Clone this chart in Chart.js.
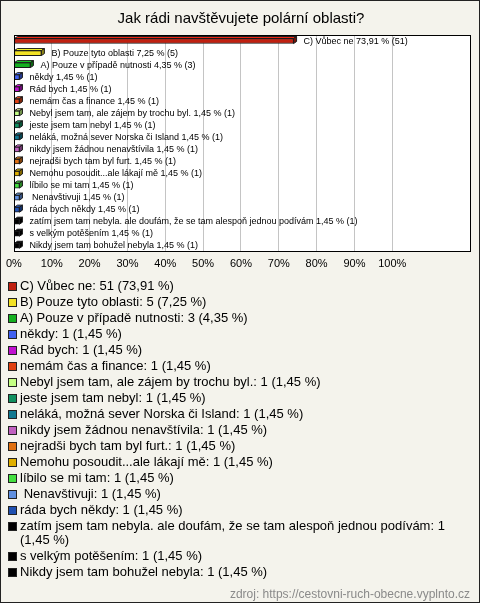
<!DOCTYPE html>
<html>
<head>
<meta charset="utf-8">
<title>Jak rádi navštěvujete polární oblasti?</title>
<script src="https://cdn.jsdelivr.net/npm/chart.js"></script>
<style>
  body { margin: 0; background: #f4f3ec; font-family: "Liberation Sans", Arial, sans-serif; }
  #frame { position: relative; width: 480px; height: 603px; outline: 1px solid #222; outline-offset: -1px; overflow: hidden; }
  #chartBox { position: absolute; left: 0; top: 0; }
  #legend { position: absolute; left: 8px; top: 279px; width: 462px; font-size: 13px; color: #000; }
  .item { position: relative; padding-left: 12px; line-height: 14px; margin-bottom: 2px; white-space: pre-wrap; }
  .item .sw { position: absolute; left: 0; top: 3px; width: 7px; height: 7px; border: 1px solid #222; }
  #source { position: absolute; right: 10px; top: 587px; font-size: 12px; color: #8a8a8a; }
</style>
</head>
<body>
<div id="frame">
  <canvas id="chartBox" width="480" height="287"></canvas>
  <div id="legend"></div>
  <div id="source">zdroj: https://cestovni-ruch-obecne.vyplnto.cz</div>
</div>
<script>
  const categories = [
    'C) Vůbec ne',
    'B) Pouze tyto oblasti',
    'A) Pouze v případě nutnosti',
    'někdy',
    'Rád bych',
    'nemám čas a finance',
    'Nebyl jsem tam, ale zájem by trochu byl.',
    'jeste jsem tam nebyl',
    'neláká, možná sever Norska či Island',
    'nikdy jsem žádnou nenavštívila',
    'nejradši bych tam byl furt.',
    'Nemohu posoudit...ale lákají mě',
    'líbilo se mi tam',
    ' Nenavštivuji',
    'ráda bych někdy',
    'zatím jsem tam nebyla. ale doufám, že se tam alespoň jednou podívám',
    's velkým potěšením',
    'Nikdy jsem tam bohužel nebyla'
  ];
  const counts = [51, 5, 3, 1, 1, 1, 1, 1, 1, 1, 1, 1, 1, 1, 1, 1, 1, 1];
  const percents = [73.91, 7.25, 4.35, 1.45, 1.45, 1.45, 1.45, 1.45, 1.45, 1.45, 1.45, 1.45, 1.45, 1.45, 1.45, 1.45, 1.45, 1.45];
  const percentLabels = ['73,91', '7,25', '4,35', '1,45', '1,45', '1,45', '1,45', '1,45', '1,45', '1,45', '1,45', '1,45', '1,45', '1,45', '1,45', '1,45', '1,45', '1,45'];
  const colors = [
    '#c02010', '#f2e226', '#14b020', '#4060f0', '#c010d0', '#e04010',
    '#c4ff84', '#109060', '#107890', '#c060c0', '#e07010', '#e0b000',
    '#44e040', '#6090e0', '#2050b0', '#000000', '#000000', '#000000'
  ];
  const tickValues = [0, 10, 20, 30, 40, 50, 60, 70, 80, 90, 100];

  function shade(hex, f) {
    const n = parseInt(hex.slice(1), 16);
    const c = [n >> 16, (n >> 8) & 255, n & 255].map(v => Math.max(0, Math.min(255, Math.round(v * f))));
    return 'rgb(' + c.join(',') + ')';
  }

  // white plot area, pseudo 3d bars, value labels, black frame
  const box3d = {
    id: 'box3d',
    beforeDraw(chart) {
      const a = chart.chartArea, ctx = chart.ctx;
      ctx.save();
      ctx.fillStyle = '#ffffff';
      ctx.fillRect(a.left, a.top, a.width, a.height);
      ctx.restore();
    },
    afterDatasetsDraw(chart) {
      const ctx = chart.ctx;
      const dx = 3, dy = 2;
      ctx.save();
      chart.getDatasetMeta(0).data.forEach((bar, i) => {
        const top = bar.y - bar.height / 2, bottom = bar.y + bar.height / 2;
        ctx.strokeStyle = '#1a1a1a';
        ctx.lineWidth = 1;
        ctx.fillStyle = shade(colors[i], 1.25);
        ctx.beginPath();
        ctx.moveTo(bar.base, top);
        ctx.lineTo(bar.base + dx, top - dy);
        ctx.lineTo(bar.x + dx, top - dy);
        ctx.lineTo(bar.x, top);
        ctx.closePath();
        ctx.fill();
        ctx.stroke();
        ctx.fillStyle = shade(colors[i], 0.6);
        ctx.beginPath();
        ctx.moveTo(bar.x, top);
        ctx.lineTo(bar.x + dx, top - dy);
        ctx.lineTo(bar.x + dx, bottom - dy);
        ctx.lineTo(bar.x, bottom);
        ctx.closePath();
        ctx.fill();
        ctx.stroke();

        ctx.fillStyle = '#000';
        ctx.font = '9px "Liberation Sans", Arial, sans-serif';
        ctx.textBaseline = 'middle';
        ctx.fillText(categories[i] + ' ' + percentLabels[i] + ' % (' + counts[i] + ')', bar.x + dx + 7, bar.y);
      });
      ctx.restore();
    },
    afterDraw(chart) {
      const a = chart.chartArea, ctx = chart.ctx;
      ctx.save();
      ctx.strokeStyle = '#000';
      ctx.lineWidth = 1;
      ctx.strokeRect(Math.round(a.left) + 0.5, Math.round(a.top) + 0.5, Math.round(a.width) - 1, Math.round(a.height) - 1);
      ctx.restore();
    }
  };

  new Chart(document.getElementById('chartBox'), {
    type: 'bar',
    data: {
      labels: categories,
      datasets: [{
        data: percents,
        backgroundColor: colors,
        borderColor: '#1a1a1a',
        borderWidth: 1,
        borderSkipped: false,
        barThickness: 5
      }]
    },
    options: {
      indexAxis: 'y',
      responsive: false,
      devicePixelRatio: 1,
      animation: false,
      layout: { padding: { left: 11, right: 9, top: 0, bottom: 10 } },
      plugins: {
        legend: { display: false },
        tooltip: { enabled: false },
        title: {
          display: true,
          text: 'Jak rádi navštěvujete polární oblasti?',
          color: '#000',
          font: { family: '"Liberation Sans", Arial, sans-serif', size: 15, weight: 'normal' },
          padding: { top: 10, bottom: 7 }
        }
      },
      scales: {
        x: {
          min: 0,
          max: 120.8,
          afterBuildTicks(axis) { axis.ticks = tickValues.map(v => ({ value: v })); },
          grid: {
            color: c => (c.tick && c.tick.value === 0) ? 'rgba(0,0,0,0)' : '#c4c4c4',
            drawTicks: false
          },
          border: { display: false },
          ticks: {
            padding: 6,
            color: '#000',
            maxRotation: 0,
            font: { family: '"Liberation Sans", Arial, sans-serif', size: 11 },
            callback: v => v + '%'
          }
        },
        y: { display: false, offset: true }
      }
    },
    plugins: [box3d]
  });

  const legend = document.getElementById('legend');
  categories.forEach((name, i) => {
    const row = document.createElement('div');
    row.className = 'item';
    const sw = document.createElement('span');
    sw.className = 'sw';
    sw.style.background = colors[i];
    row.appendChild(sw);
    row.appendChild(document.createTextNode(name + ': ' + counts[i] + ' (' + percentLabels[i] + ' %)'));
    legend.appendChild(row);
  });
</script>
</body>
</html>
